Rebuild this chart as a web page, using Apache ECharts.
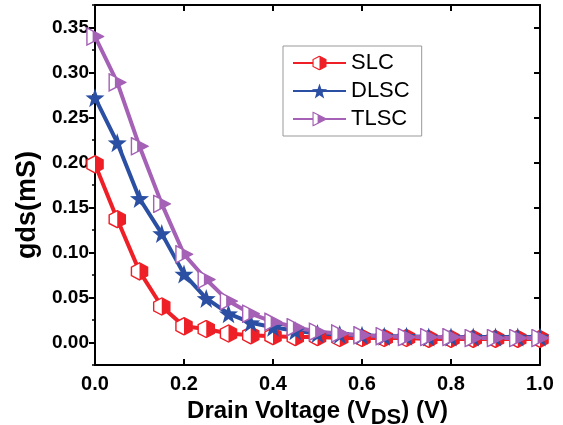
<!DOCTYPE html>
<html>
<head>
<meta charset="utf-8">
<script src="https://cdn.jsdelivr.net/npm/echarts@6/dist/echarts.min.js"></script>
<style>
  html, body { margin: 0; padding: 0; background: #fff; }
  #chart { width: 563px; height: 425px; }
</style>
</head>
<body>
<div id="chart"></div>
<script>
// drain voltage (V)
const volts = [0, 0.05, 0.1, 0.15, 0.2, 0.25, 0.3, 0.35, 0.4, 0.45, 0.5,
  0.55, 0.6, 0.65, 0.7, 0.75, 0.8, 0.85, 0.9, 0.95, 1.0];
// gds (mS)
const slc = [0.198, 0.137, 0.079, 0.040, 0.018, 0.015, 0.010, 0.008, 0.007, 0.006, 0.006,
  0.005, 0.005, 0.005, 0.005, 0.004, 0.004, 0.004, 0.004, 0.004, 0.004];
const dlsc = [0.272, 0.222, 0.160, 0.121, 0.076, 0.049, 0.032, 0.022, 0.017, 0.013, 0.010,
  0.009, 0.008, 0.007, 0.007, 0.006, 0.006, 0.006, 0.006, 0.006, 0.006];
const tlsc = [0.340, 0.289, 0.218, 0.154, 0.098, 0.070, 0.046, 0.032, 0.023, 0.017, 0.012,
  0.010, 0.008, 0.007, 0.006, 0.006, 0.006, 0.005, 0.005, 0.005, 0.005];
const seriesNames = ["SLC", "DLSC", "TLSC"];
const yTicks = [0, 0.05, 0.1, 0.15, 0.2, 0.25, 0.3, 0.35];

const RED = "#ee1f26";
const BLUE = "#2b4fa3";
const PURPLE = "#a461b5";
const FONT = "Arial, 'Liberation Sans', sans-serif";

function svgSymbol(svg) {
  return "image://data:image/svg+xml;charset=utf-8," + encodeURIComponent(svg);
}
// 半填充六边形 / 三角形
const hexPts = "10,1 18.5,5.5 18.5,14.5 10,19 1.5,14.5 1.5,5.5";
const hexSymbol = svgSymbol(
  '<svg xmlns="http://www.w3.org/2000/svg" width="20" height="20" viewBox="0 0 20 20">' +
  '<polygon points="' + hexPts + '" fill="#fff"/>' +
  '<polygon points="10,1 18.5,5.5 18.5,14.5 10,19" fill="' + RED + '"/>' +
  '<polygon points="' + hexPts + '" fill="none" stroke="' + RED + '" stroke-width="1.5"/></svg>'
);
const triSymbol = svgSymbol(
  '<svg xmlns="http://www.w3.org/2000/svg" width="20" height="20" viewBox="0 0 20 20">' +
  '<polygon points="1.5,1 19,10 1.5,19" fill="#fff"/>' +
  '<polygon points="7.5,4.1 19,10 7.5,15.9" fill="' + PURPLE + '"/>' +
  '<polygon points="1.5,1 19,10 1.5,19" fill="none" stroke="' + PURPLE + '" stroke-width="1.5"/></svg>'
);
const starSymbol = "path://M10,0L12.35,6.76L19.51,6.91L13.8,11.24L15.88,18.09L10,14L4.12,18.09L6.2,11.24L0.49,6.91L7.65,6.76Z";

let chart = echarts.init(document.getElementById("chart"));

function makeSeries(name, vals, color, symbol, size) {
  return {
    name: name,
    type: "line",
    xAxisIndex: 0,
    yAxisIndex: 0,
    data: volts.map((v, i) => [v, vals[i]]),
    symbol: symbol,
    symbolSize: size,
    showAllSymbol: true,
    itemStyle: { color: color, borderWidth: 0 },
    lineStyle: { color: color, width: 4 },
    animation: false,
  };
}

const axisLine = { onZero: false, lineStyle: { color: "#000", width: 2 } };

const option = {
  backgroundColor: "#fff",
  animation: false,
  grid: { left: 95, right: 23, top: 5, bottom: 60, outerBoundsMode: "none", containLabel: false },
  legend: {
    orient: "vertical",
    left: 283,
    top: 46,
    padding: [6, 12, 6, 9],
    itemWidth: 53,
    itemHeight: 19,
    itemGap: 6,
    borderColor: "#999",
    borderWidth: 1,
    data: seriesNames,
    textStyle: { color: "#000", fontSize: 22, fontFamily: FONT },
  },
  xAxis: [
    {
      type: "value",
      position: "bottom",
      min: 0,
      max: 1,
      interval: 0.2,
      name: "Drain Voltage (V{sub|DS}) (V)",
      nameLocation: "middle",
      nameGap: 27,
      nameTextStyle: {
        color: "#000",
        fontSize: 24,
        fontWeight: "bold",
        fontFamily: FONT,
        rich: {
          sub: { fontSize: 22, fontWeight: "bold", fontFamily: FONT, color: "#000", padding: [14, 0, 0, 0] },
        },
      },
      axisLine: axisLine,
      axisTick: { inside: true, length: 6, lineStyle: { color: "#000", width: 2 } },
      axisLabel: {
        color: "#000",
        fontSize: 20,
        fontWeight: "bold",
        fontFamily: FONT,
        margin: 9,
        formatter: (v) => v.toFixed(1),
      },
      splitLine: { show: false },
    },
    {
      type: "value",
      position: "top",
      min: 0,
      max: 1,
      interval: 0.2,
      axisLine: axisLine,
      axisTick: { inside: true, length: 6, lineStyle: { color: "#000", width: 2 } },
      axisLabel: { show: false },
      splitLine: { show: false },
    },
  ],
  yAxis: [
    {
      type: "value",
      position: "left",
      min: -0.025,
      max: 0.375,
      interval: 0.025,
      name: "gds(mS)",
      nameLocation: "middle",
      nameGap: 52,
      nameTextStyle: {
        color: "#000",
        fontSize: 27,
        fontWeight: "bold",
        fontFamily: FONT,
        padding: [0, 40, 0, 0],
      },
      axisLine: axisLine,
      axisTick: { customValues: yTicks, length: 6, lineStyle: { color: "#000", width: 2 } },
      axisLabel: {
        customValues: yTicks,
        color: "#000",
        fontSize: 19,
        fontWeight: "bold",
        fontFamily: FONT,
        margin: 6,
        formatter: (v) => v.toFixed(2),
      },
      splitLine: { show: false },
    },
    {
      // 次刻度
      type: "value",
      position: "left",
      min: -0.025,
      max: 0.375,
      interval: 0.025,
      axisLine: { show: false, onZero: false },
      axisTick: { length: 3, lineStyle: { color: "#000", width: 1.5 } },
      axisLabel: { show: false },
      splitLine: { show: false },
    },
    {
      type: "value",
      position: "right",
      min: -0.025,
      max: 0.375,
      interval: 0.025,
      axisLine: axisLine,
      axisTick: { inside: true, customValues: yTicks, length: 6, lineStyle: { color: "#000", width: 2 } },
      axisLabel: { show: false },
      splitLine: { show: false },
    },
  ],
  series: [
    makeSeries("SLC", slc, RED, hexSymbol, 19),
    makeSeries("DLSC", dlsc, BLUE, starSymbol, 19),
    makeSeries("TLSC", tlsc, PURPLE, triSymbol, 19),
  ],
};

chart.setOption(option);
</script>
</body>
</html>
